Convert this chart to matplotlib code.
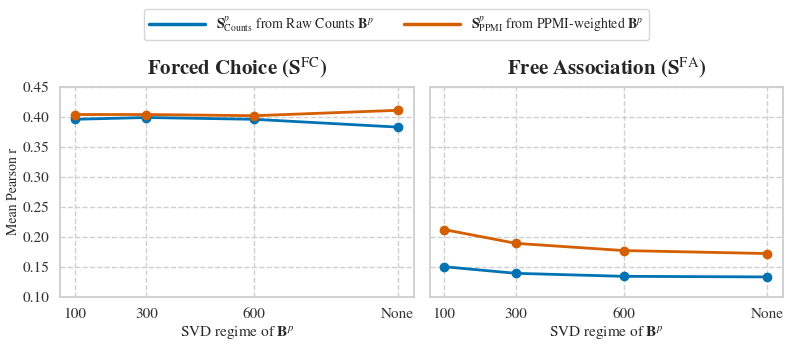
import matplotlib.pyplot as plt
import seaborn as sns

svd_labels = ['100', '300', '600', 'None']
svd_pos = [100, 300, 600, 1000]

fc_counts = [0.396, 0.399, 0.396, 0.383]
fc_ppmi = [0.404, 0.404, 0.402, 0.411]
fa_counts = [0.150, 0.139, 0.134, 0.133]
fa_ppmi = [0.212, 0.189, 0.177, 0.172]

sns.set_theme(style='whitegrid')
plt.rcParams['font.family'] = ['STIXGeneral', 'DejaVu Serif']
plt.rcParams['mathtext.fontset'] = 'stix'
plt.rcParams['grid.linestyle'] = '--'
plt.rcParams['grid.color'] = '#d0d0d0'
plt.rcParams['axes.edgecolor'] = '#cccccc'

blue = '#0173B2'
orange = '#D55E00'

fig, axes = plt.subplots(1, 2, figsize=(7.93, 3.45), dpi=100, sharey=True)

panels = [
    (axes[0], fc_counts, fc_ppmi, r'Forced Choice ($\mathbf{S}^{\mathrm{FC}}$)'),
    (axes[1], fa_counts, fa_ppmi, r'Free Association ($\mathbf{S}^{\mathrm{FA}}$)'),
]
for ax, counts, ppmi, title in panels:
    ax.plot(svd_pos, counts, '-o', color=blue, lw=2, ms=6,
            label=r'$\mathbf{S}^{p}_{\mathrm{Counts}}$ from Raw Counts $\mathbf{B}^{p}$')
    ax.plot(svd_pos, ppmi, '-o', color=orange, lw=2, ms=6,
            label=r'$\mathbf{S}^{p}_{\mathrm{PPMI}}$ from PPMI-weighted $\mathbf{B}^{p}$')
    ax.set_xticks(svd_pos)
    ax.set_xticklabels(svd_labels)
    ax.set_xlim(60, 1045)
    ax.set_title(title, fontsize=15, fontweight='bold', pad=9)
    ax.set_xlabel(r'SVD regime of $\mathbf{B}^{p}$', fontsize=11, labelpad=2)
    ax.tick_params(axis='both', labelsize=11, pad=2, labelcolor='#333333')

axes[0].set_ylim(0.10, 0.45)
axes[0].set_yticks([0.10, 0.15, 0.20, 0.25, 0.30, 0.35, 0.40, 0.45])
axes[0].set_ylabel('Mean Pearson r', fontsize=10, labelpad=2)

labels = axes[0].get_legend_handles_labels()[1]
leg_handles = [plt.Line2D([], [], color=blue, lw=2.5), plt.Line2D([], [], color=orange, lw=2.5)]
fig.legend(leg_handles, labels, loc='upper center', ncol=2, bbox_to_anchor=(0.5, 0.995),
           fontsize=10, frameon=True, handlelength=4, columnspacing=2.2)

fig.subplots_adjust(left=0.076, right=0.988, bottom=0.14, top=0.748, wspace=0.045)
fig.savefig('out.png', dpi=100)
